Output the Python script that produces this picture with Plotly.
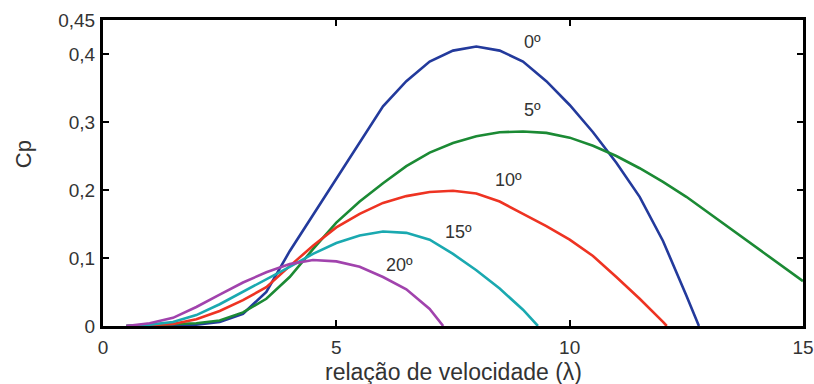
import plotly.graph_objects as go

# Curve data: tip-speed ratio (lambda) vs power coefficient Cp for several pitch angles
x_0 = [0.5, 1, 1.5, 2, 2.5, 3, 3.5, 4, 4.5, 5, 5.5, 6, 6.5, 7, 7.5, 8, 8.5, 9, 9.5, 10, 10.5, 11, 11.5, 12, 12.5, 12.77]
cp_0 = [0, 0, 0.001, 0.002, 0.006, 0.018, 0.05, 0.11, 0.163, 0.215, 0.268, 0.323, 0.36, 0.389, 0.405, 0.411, 0.405, 0.389, 0.36, 0.325, 0.285, 0.24, 0.19, 0.125, 0.045, 0]

x_5 = [0.5, 1, 1.5, 2, 2.5, 3, 3.5, 4, 4.5, 5, 5.5, 6, 6.5, 7, 7.5, 8, 8.5, 9, 9.5, 10, 10.5, 11, 11.5, 12, 12.5, 13, 13.5, 14, 14.5, 15]
cp_5 = [0, 0.001, 0.002, 0.004, 0.008, 0.02, 0.04, 0.072, 0.113, 0.152, 0.183, 0.21, 0.235, 0.255, 0.269, 0.279, 0.285, 0.286, 0.284, 0.277, 0.265, 0.25, 0.232, 0.212, 0.19, 0.165, 0.14, 0.115, 0.09, 0.066]

x_10 = [0.5, 1, 1.5, 2, 2.5, 3, 3.5, 4, 4.5, 5, 5.5, 6, 6.5, 7, 7.5, 8, 8.5, 9, 9.5, 10, 10.5, 11, 11.5, 12, 12.08]
cp_10 = [0, 0.001, 0.003, 0.01, 0.022, 0.038, 0.057, 0.088, 0.118, 0.145, 0.165, 0.181, 0.191, 0.197, 0.199, 0.195, 0.183, 0.165, 0.147, 0.127, 0.103, 0.072, 0.04, 0.006, 0]

x_15 = [0.5, 1, 1.5, 2, 2.5, 3, 3.5, 4, 4.5, 5, 5.5, 6, 6.5, 7, 7.5, 8, 8.5, 9, 9.32]
cp_15 = [0, 0.002, 0.006, 0.016, 0.032, 0.05, 0.068, 0.087, 0.106, 0.122, 0.133, 0.139, 0.137, 0.127, 0.106, 0.082, 0.055, 0.024, 0]

x_20 = [0.5, 1, 1.5, 2, 2.5, 3, 3.5, 4, 4.5, 5, 5.5, 6, 6.5, 7, 7.29]
cp_20 = [0, 0.004, 0.012, 0.028, 0.046, 0.064, 0.079, 0.091, 0.097, 0.095, 0.087, 0.072, 0.054, 0.025, 0]

series = [
    ("0º", x_0, cp_0, "#233a9c"),
    ("5º", x_5, cp_5, "#1b8a34"),
    ("10º", x_10, cp_10, "#ee3322"),
    ("15º", x_15, cp_15, "#1aa9b0"),
    ("20º", x_20, cp_20, "#a143ad"),
]

labels = ["0º", "5º", "10º", "15º", "20º"]
label_x = [9.21, 9.21, 8.68, 7.61, 6.36]
label_y = [0.417, 0.318, 0.215, 0.138, 0.09]

x_ticks = [0, 5, 10, 15]
y_ticks = [0, 0.1, 0.2, 0.3, 0.4, 0.45]
y_tick_text = ["0", "0,1", "0,2", "0,3", "0,4", "0,45"]

FONT = "Liberation Sans, Arial, sans-serif"
TXT = "#333333"

fig = go.Figure()
for name, xs, ys, col in series:
    fig.add_trace(go.Scatter(x=xs, y=ys, mode="lines", name=name,
                             line=dict(color=col, width=2.6), showlegend=False))

for t, lx, ly in zip(labels, label_x, label_y):
    fig.add_annotation(x=lx, y=ly, text=t, showarrow=False,
                       font=dict(family=FONT, size=18, color=TXT))

fig.add_annotation(xref="paper", yref="paper", x=0.5, y=-0.15, xanchor="center",
                   yanchor="middle", text="relação de velocidade (λ)", showarrow=False,
                   font=dict(family=FONT, size=23, color=TXT))
fig.add_annotation(xref="paper", yref="paper", x=-0.114, y=0.562, xanchor="center",
                   yanchor="middle", text="Cp", textangle=-90, showarrow=False,
                   font=dict(family=FONT, size=22, color=TXT))

axis_common = dict(showgrid=False, zeroline=False, showline=True, linecolor="black",
                   linewidth=3, mirror="ticks", ticks="inside", ticklen=6,
                   tickwidth=2, tickcolor="black", automargin=False,
                   tickfont=dict(family=FONT, size=19, color=TXT))

fig.update_xaxes(range=[0, 15], tickvals=x_ticks, ticktext=[str(v) for v in x_ticks],
                 ticklabelstandoff=2, **axis_common)
fig.update_yaxes(range=[0, 0.45], tickvals=y_ticks, ticktext=y_tick_text,
                 ticklabelstandoff=1, **axis_common)

fig.update_layout(width=814, height=384, margin=dict(l=103, r=11, t=20, b=58),
                  plot_bgcolor="white", paper_bgcolor="white",
                  font=dict(family=FONT, color=TXT))

# remove the default page margin so the figure fills the window exactly
fig.write_html("out.html", config={"displayModeBar": False},
               post_script="document.body.style.margin='0';document.body.style.overflow='hidden';")
